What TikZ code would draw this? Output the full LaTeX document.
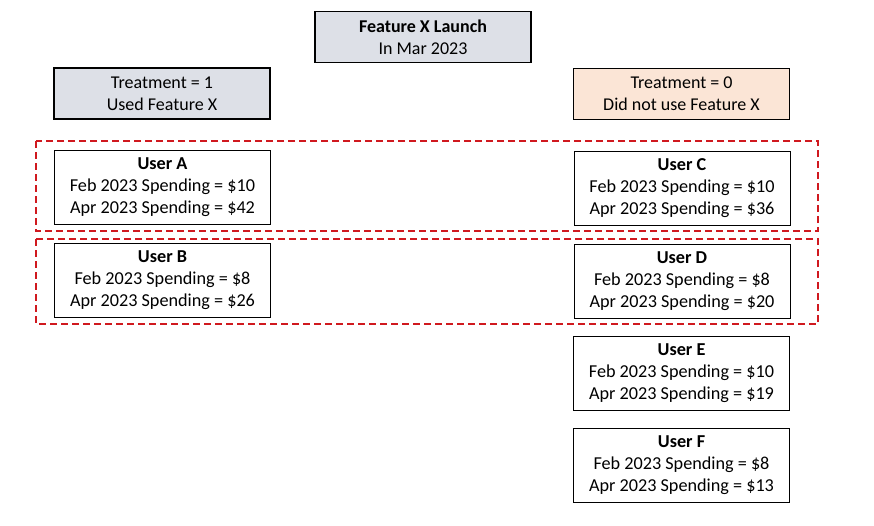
\documentclass[tikz,border=0pt]{standalone}
\usepackage{fontspec}
\setmainfont{Carlito}
\definecolor{grayfill}{HTML}{DDE0E7}
\definecolor{peach}{HTML}{FBE5D6}
\definecolor{dashred}{HTML}{D0191F}
\begin{document}
\begin{tikzpicture}[x=1pt,y=-1pt,
  hdr/.style={draw=black,line width=1.6pt,minimum width=216pt,minimum height=51pt,align=center,font=\fontsize{18}{22}\selectfont,inner sep=0pt},
  user/.style={draw=black,line width=0.8pt,minimum width=216pt,minimum height=74pt,align=center,font=\fontsize{18.2}{22}\selectfont,inner sep=0pt},
  grp/.style={draw=dashred,line width=1.6pt,dash pattern=on 7pt off 4pt}]
\useasboundingbox (0,0) rectangle (874,525);
\node[hdr,fill=grayfill] (launch) at (423,37) {\textbf{Feature X Launch}\\In Mar 2023};
\node[hdr,fill=grayfill] (t1) at (162,93.5) {Treatment = 1\\Used Feature X};
\node[hdr,fill=peach] (t0) at (681.5,94) {Treatment = 0\\Did not use Feature X};
\node[user] (ua) at (162.5,187) {\textbf{User A}\\Feb 2023 Spending = \$10\\Apr 2023 Spending = \$42};
\node[user] (ub) at (162.5,280) {\textbf{User B}\\Feb 2023 Spending = \$8\\Apr 2023 Spending = \$26};
\node[user] (uc) at (682,188) {\textbf{User C}\\Feb 2023 Spending = \$10\\Apr 2023 Spending = \$36};
\node[user] (ud) at (682,281) {\textbf{User D}\\Feb 2023 Spending = \$8\\Apr 2023 Spending = \$20};
\node[user] (ue) at (681.5,373) {\textbf{User E}\\Feb 2023 Spending = \$10\\Apr 2023 Spending = \$19};
\node[user] (uf) at (681.5,465) {\textbf{User F}\\Feb 2023 Spending = \$8\\Apr 2023 Spending = \$13};
\draw[grp] (36,141) rectangle (818,231);
\draw[grp] (36,239) rectangle (818,324);
\end{tikzpicture}
\end{document}
